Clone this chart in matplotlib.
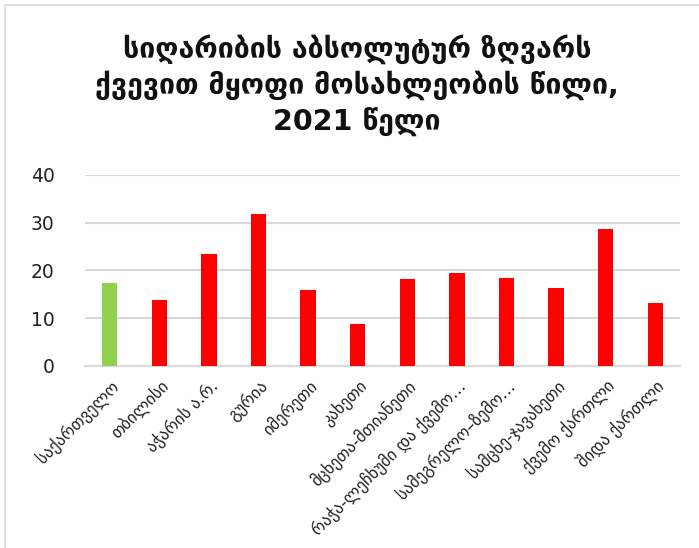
import matplotlib
matplotlib.use("Agg")
import matplotlib.pyplot as plt
from matplotlib.patches import Rectangle

categories = [
    "საქართველო", "თბილისი", "აჭარის ა.რ.", "გურია", "იმერეთი", "კახეთი",
    "მცხეთა-მთიანეთი", "რაჭა-ლეჩხუმი და ქვემო…", "სამეგრელო–ზემო…",
    "სამცხე-ჯავახეთი", "ქვემო ქართლი", "შიდა ქართლი",
]
values = [17.3, 13.8, 23.4, 31.8, 15.9, 8.8, 18.2, 19.4, 18.5, 16.4, 28.7, 13.1]
colors = ["#92D050"] + ["#FF0000"] * 11
yticks = [0, 10, 20, 30, 40]
title = "სიღარიბის აბსოლუტურ ზღვარს\nქვევით მყოფი მოსახლეობის წილი,\n2021 წელი"

plt.rcParams["font.family"] = ["DejaVu Sans"]
fig = plt.figure(figsize=(6.99, 5.48), dpi=100)
ax = fig.add_axes([85/699, 1-365.7/548, 595/699, (365.7-175)/548])

x = list(range(len(categories)))
ax.bar(x, values, width=0.31, color=colors, zorder=3)
ax.set_xlim(-0.5, len(categories)-0.5)
ax.set_ylim(0, 40)
ax.set_yticks(yticks)
ax.set_yticklabels([str(t) for t in yticks], fontsize=13.5, color="#222222")
ax.grid(axis="y", color="#d9d9d9", lw=1.5, zorder=0)
for s in ["left", "right", "top"]:
    ax.spines[s].set_visible(False)
ax.spines["bottom"].set_color("#d9d9d9")
ax.spines["bottom"].set_linewidth(1.5)
ax.tick_params(axis="y", length=0, pad=22)
ax.tick_params(axis="x", length=0, pad=8)
ax.set_xticks(x)
ax.set_xticklabels(categories, rotation=45, ha="right", rotation_mode="anchor",
                   fontsize=12, color="#222222")

fig.text(357/699, 1-85/548, title, ha="center", va="center", fontsize=20.5,
         fontweight="bold", linespacing=1.3, color="#111111")

fig.patches.append(Rectangle((5/699, -0.1), 1.2, 1-4.5/548+0.1, transform=fig.transFigure,
                             fill=False, edgecolor="#d9d9d9", lw=1.2))

fig.savefig("out.png", dpi=100)
